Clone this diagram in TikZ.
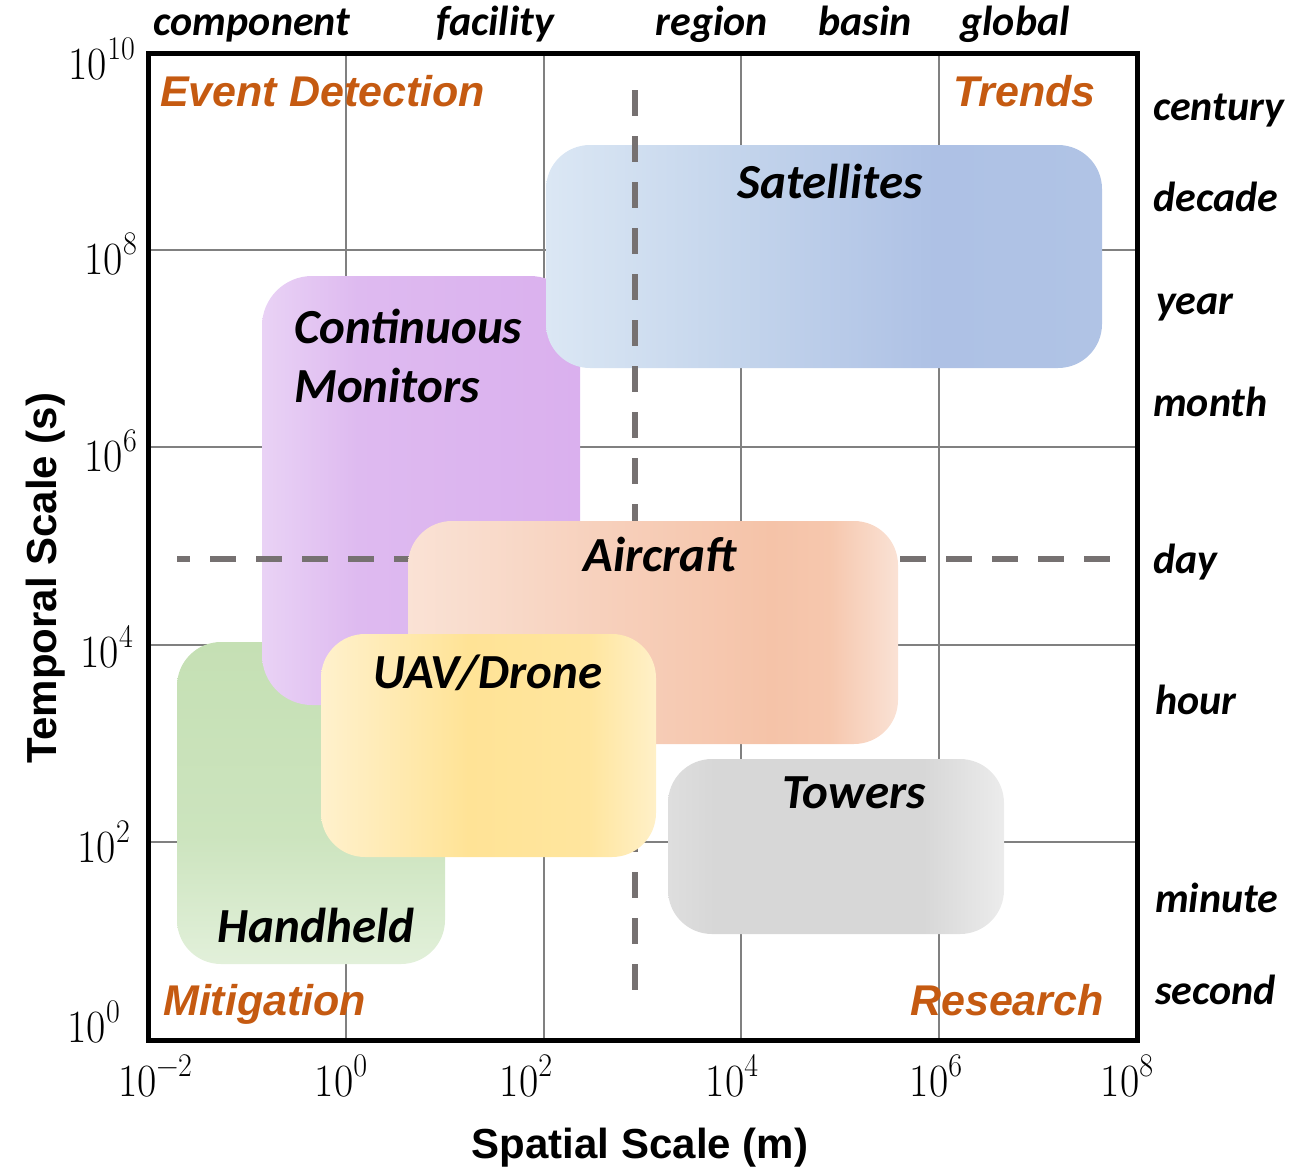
\documentclass[tikz,border=0pt]{standalone}
\usepackage{fontspec}
\usepackage{graphicx}
\newfontfamily\calib{Carlito}
\newfontfamily\arialf{Liberation Sans}

% power-of-ten tick label: base 10 with a raised exponent
\newcommand{\tenpow}[1]{\scalebox{1}[1.1]{10\raisebox{18pt}{\fontsize{30}{30}\selectfont #1}}}

% colour ramps for the instrument boxes (box spans 25bp..75bp)
\pgfdeclarehorizontalshading{satshade}{100bp}{%
  rgb(0bp)=(0.859,0.906,0.957); rgb(25bp)=(0.859,0.906,0.957);
  rgb(42bp)=(0.769,0.835,0.925); rgb(60bp)=(0.682,0.757,0.898);
  rgb(75bp)=(0.690,0.765,0.898); rgb(100bp)=(0.690,0.765,0.898)}
\pgfdeclarehorizontalshading{cmshade}{100bp}{%
  rgb(0bp)=(0.914,0.824,0.961); rgb(25bp)=(0.914,0.824,0.961);
  rgb(40bp)=(0.871,0.729,0.941); rgb(75bp)=(0.855,0.690,0.933);
  rgb(100bp)=(0.855,0.690,0.933)}
\pgfdeclarehorizontalshading{acshade}{100bp}{%
  rgb(0bp)=(0.980,0.886,0.835); rgb(25bp)=(0.980,0.886,0.835);
  rgb(45bp)=(0.969,0.816,0.737); rgb(62bp)=(0.961,0.765,0.659);
  rgb(68bp)=(0.965,0.780,0.680);
  rgb(75bp)=(0.980,0.886,0.835); rgb(100bp)=(0.980,0.886,0.835)}
\pgfdeclarehorizontalshading{uavshade}{100bp}{%
  rgb(0bp)=(1.000,0.945,0.804); rgb(25bp)=(1.000,0.945,0.804);
  rgb(47bp)=(1.000,0.890,0.588); rgb(65bp)=(1.000,0.900,0.620);
  rgb(75bp)=(1.000,0.941,0.784); rgb(100bp)=(1.000,0.941,0.784)}
\pgfdeclareverticalshading{hhshade}{100bp}{%
  rgb(0bp)=(0.886,0.941,0.855); rgb(25bp)=(0.886,0.941,0.855);
  rgb(45bp)=(0.800,0.894,0.745); rgb(75bp)=(0.773,0.878,0.706);
  rgb(100bp)=(0.773,0.878,0.706)}
\pgfdeclarehorizontalshading{twshade}{100bp}{%
  rgb(0bp)=(0.871,0.871,0.871); rgb(25bp)=(0.871,0.871,0.871);
  rgb(32bp)=(0.843,0.843,0.843); rgb(63bp)=(0.843,0.843,0.843);
  rgb(75bp)=(0.925,0.925,0.925); rgb(100bp)=(0.925,0.925,0.925)}

\definecolor{quadorange}{RGB}{197,90,17}
\definecolor{dashgray}{RGB}{118,113,113}
\definecolor{gridgray}{RGB}{128,128,128}

\begin{document}
\begin{tikzpicture}[x=1pt,y=-1pt,
  inst/.style={rounded corners=44pt, inner sep=0pt, draw=none},
  gridline/.style={draw=gridgray, line width=1.5pt},
  divider/.style={draw=dashgray, line width=6pt, dash pattern=on 26pt off 20pt},
  instlabel/.style={font=\calib\bfseries\itshape\fontsize{49}{56}\selectfont, inner sep=0pt},
  scalelabel/.style={font=\calib\bfseries\itshape\fontsize{42}{50}\selectfont, inner sep=0pt},
  quadlabel/.style={font=\arialf\bfseries\itshape\fontsize{43}{50}\selectfont, text=quadorange, inner sep=0pt},
  ticklabel/.style={font=\fontsize{42}{42}\selectfont, inner sep=0pt},
  axistitle/.style={font=\arialf\bfseries\fontsize{42}{50}\selectfont, inner sep=0pt}]

\useasboundingbox (0,0) rectangle (1311,1167);

% grid
\foreach \gx in {346,544,741,939} \draw[gridline] (\gx,53) -- (\gx,1040);
\foreach \gy in {250,447,645,842} \draw[gridline] (148,\gy) -- (1137,\gy);

% instrument footprints
\node[inst, shading=hhshade, minimum width=268pt, minimum height=322pt] (hand) at (311,803) {};
\node[inst, rounded corners=50pt, shading=cmshade, minimum width=318pt, minimum height=429pt] (cont) at (421,490.5) {};
\node[inst, shading=satshade, minimum width=556pt, minimum height=223pt] (sat) at (824,256.5) {};

% quadrant dividers
\coordinate (hdivA) at (177,559);
\coordinate (hdivB) at (1111,559);
\coordinate (vdivA) at (635,90);
\coordinate (vdivB) at (635,991);
\draw[divider, dash phase=13pt] (hdivA) -- (hdivB);
\draw[divider] (vdivA) -- (vdivB);

\node[inst, shading=acshade, minimum width=490pt, minimum height=223pt] (air) at (653,632.5) {};
\node[inst, shading=uavshade, minimum width=335pt, minimum height=223pt] (uav) at (488.5,745.5) {};
\node[inst, shading=twshade, minimum width=336pt, minimum height=175pt] (tow) at (836,846.5) {};

% plot frame
\node[draw=black, line width=5pt, minimum width=989pt, minimum height=987pt, inner sep=0pt] (frame) at (642.5,546.5) {};

% instrument labels
\node[instlabel, anchor=base] (lsat) at (830,198) {Satellites};
\node[instlabel, anchor=base west] (lcont1) at (294,343) {Continuous};
\node[instlabel, anchor=base west] (lcont2) at (294,402) {Monitors};
\node[instlabel, anchor=base] (lair) at (660,571) {Aircraft};
\node[instlabel, anchor=base] (luav) at (488,688) {UAV/Drone};
\node[instlabel, anchor=base] (ltow) at (854,808) {Towers};
\node[instlabel, anchor=base] (lhand) at (316,942) {Handheld};

% quadrant labels
\node[quadlabel, anchor=base west] (qed) at (160,106) {Event Detection};
\node[quadlabel, anchor=base east] (qtr) at (1096,106) {Trends};
\node[quadlabel, anchor=base west] (qmi) at (163,1015) {Mitigation};
\node[quadlabel, anchor=base east] (qre) at (1104,1015) {Research};

% spatial scale words
\node[scalelabel, anchor=base] (scomp) at (252,35) {component};
\node[scalelabel, anchor=base] (sfac) at (495,35) {facility};
\node[scalelabel, anchor=base] (sreg) at (712,35) {region};
\node[scalelabel, anchor=base] (sbas) at (865,35) {basin};
\node[scalelabel, anchor=base] (sglo) at (1015,35) {global};

% temporal scale words
\node[scalelabel, anchor=base west] (tcen) at (1153,120) {century};
\node[scalelabel, anchor=base west] (tdec) at (1153,211) {decade};
\node[scalelabel, anchor=base west] (tyea) at (1156,314) {year};
\node[scalelabel, anchor=base west] (tmon) at (1153,416) {month};
\node[scalelabel, anchor=base west] (tday) at (1153,573) {day};
\node[scalelabel, anchor=base west] (thou) at (1155,714) {hour};
\node[scalelabel, anchor=base west] (tmin) at (1155,912) {minute};
\node[scalelabel, anchor=base west] (tsec) at (1155,1004) {second};

% tick labels, vertical axis
\node[ticklabel, anchor=base east] (y10) at (135,79) {\tenpow{10}};
\node[ticklabel, anchor=base east] (y8) at (137,274) {\tenpow{8}};
\node[ticklabel, anchor=base east] (y6) at (137,471) {\tenpow{6}};
\node[ticklabel, anchor=base east] (y4) at (133,667) {\tenpow{4}};
\node[ticklabel, anchor=base east] (y2) at (130,862) {\tenpow{2}};
\node[ticklabel, anchor=base east] (y0) at (120,1042) {\tenpow{0}};

% tick labels, horizontal axis
\node[ticklabel, anchor=base] (xm2) at (155,1096) {\tenpow{\char"2212 2}};
\node[ticklabel, anchor=base] (x0) at (341,1096) {\tenpow{0}};
\node[ticklabel, anchor=base] (x2) at (526,1096) {\tenpow{2}};
\node[ticklabel, anchor=base] (x4) at (732,1096) {\tenpow{4}};
\node[ticklabel, anchor=base] (x6) at (936,1096) {\tenpow{6}};
\node[ticklabel, anchor=base] (x8) at (1127,1096) {\tenpow{8}};

% axis titles
\node[axistitle, anchor=base] (xtitle) at (640,1158) {Spatial Scale (m)};
\node[axistitle, anchor=base, rotate=90] (ytitle) at (56,578) {Temporal Scale (s)};

\end{tikzpicture}
\end{document}
